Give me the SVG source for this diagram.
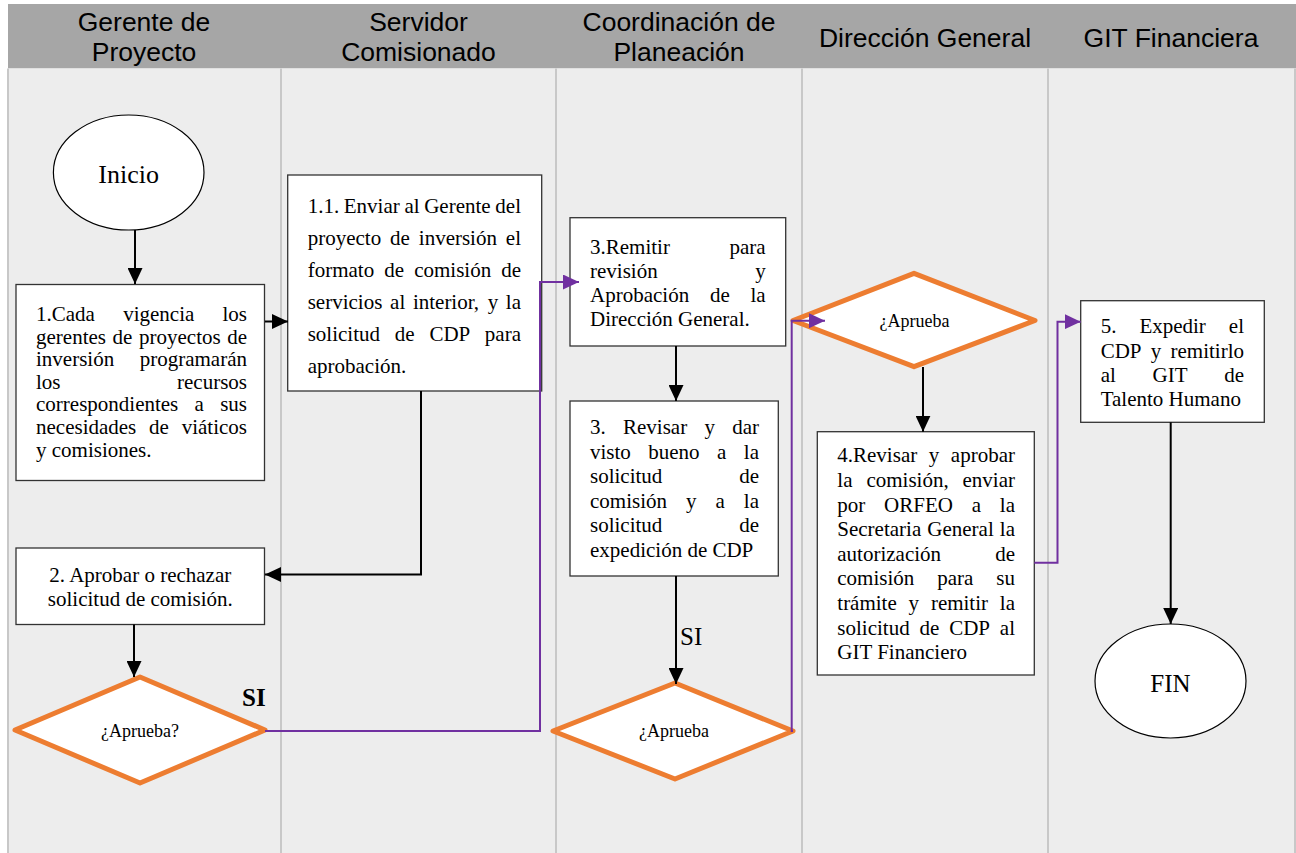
<svg xmlns="http://www.w3.org/2000/svg" width="1296" height="853" viewBox="0 0 1296 853">
<style>
.hdr{font-family:"Liberation Sans",Arial,sans-serif;font-size:26.5px;fill:#000;text-anchor:middle}
.bx{fill:#fff;stroke:#333;stroke-width:1.3}
.t{font-family:"Liberation Serif","Times New Roman",serif;font-size:21px;fill:#000}
.big{font-size:26px}
.fin{font-size:25px}
.c{text-anchor:middle}
.dm{fill:#fff;stroke:#ed7d31;stroke-width:5;stroke-linejoin:round}
.dt{font-family:"Liberation Serif","Times New Roman",serif;font-size:18px;fill:#000;text-anchor:middle}
.el{fill:#fff;stroke:#000;stroke-width:1.2}
.sep{stroke:#c8c8c8;stroke-width:2}
.k{fill:none;stroke:#000;stroke-width:2}
.p{fill:none;stroke:#7030a0;stroke-width:2}
.si{font-family:"Liberation Serif","Times New Roman",serif;font-size:25px;fill:#000}
</style>
<defs>
<marker id="ak" markerUnits="userSpaceOnUse" markerWidth="16" markerHeight="15" refX="16" refY="7.5" orient="auto" viewBox="0 0 16 15">
<path d="M0,0 L16,7.5 L0,15 Z" fill="#000"/>
</marker>
<marker id="ap" markerUnits="userSpaceOnUse" markerWidth="16" markerHeight="15" refX="16" refY="7.5" orient="auto" viewBox="0 0 16 15">
<path d="M0,0 L16,7.5 L0,15 Z" fill="#7030a0"/>
</marker>
</defs>
<g id="lanes">
<rect x="8" y="4" width="1288" height="64.5" fill="#a6a6a6"/>
<rect x="8" y="68.5" width="1288" height="785" fill="#ededed"/>
<line class="sep" x1="8" y1="68.5" x2="8" y2="853"/>
<line class="sep" x1="281" y1="68.5" x2="281" y2="853"/>
<line class="sep" x1="556" y1="68.5" x2="556" y2="853"/>
<line class="sep" x1="802" y1="68.5" x2="802" y2="853"/>
<line class="sep" x1="1048" y1="68.5" x2="1048" y2="853"/>
<line class="sep" x1="1295" y1="68.5" x2="1295" y2="853"/>
<text class="hdr" x="144" y="31">Gerente de</text>
<text class="hdr" x="144" y="61">Proyecto</text>
<text class="hdr" x="418.5" y="31">Servidor</text>
<text class="hdr" x="418.5" y="61">Comisionado</text>
<text class="hdr" x="679" y="31">Coordinación de</text>
<text class="hdr" x="679" y="61">Planeación</text>
<text class="hdr" x="925" y="46.5">Dirección General</text>
<text class="hdr" x="1171" y="46.5">GIT Financiera</text>
</g>
<g id="inicio">
<ellipse class="el" cx="128.7" cy="172.5" rx="75.3" ry="57.5"/>
<text class="t big c" x="128.7" y="182.7">Inicio</text>
</g>
<g id="paso1">
<rect class="bx" x="16" y="284.5" width="248.5" height="196"/>
<text class="t" y="321"><tspan x="36">1.Cada</tspan><tspan x="123.2">vigencia</tspan><tspan x="247" text-anchor="end">los</tspan></text>
<text class="t" y="343.6"><tspan x="36">gerentes</tspan><tspan x="112.6">de</tspan><tspan x="139">proyectos</tspan><tspan x="247" text-anchor="end">de</tspan></text>
<text class="t" y="366.2"><tspan x="36">inversión</tspan><tspan x="247" text-anchor="end">programarán</tspan></text>
<text class="t" y="388.8"><tspan x="36">los</tspan><tspan x="247" text-anchor="end">recursos</tspan></text>
<text class="t" y="411.4"><tspan x="36">correspondientes</tspan><tspan x="194.6">a</tspan><tspan x="247" text-anchor="end">sus</tspan></text>
<text class="t" y="434"><tspan x="36">necesidades</tspan><tspan x="149.1">de</tspan><tspan x="247" text-anchor="end">viáticos</tspan></text>
<text class="t" x="36" y="456.6">y comisiones.</text>
</g>
<g id="paso1_1">
<rect class="bx" x="287.7" y="175" width="254" height="216"/>
<text class="t" y="213.3"><tspan x="307.7">1.1.</tspan><tspan x="343.8">Enviar</tspan><tspan x="404.4">al</tspan><tspan x="424.2">Gerente</tspan><tspan x="521" text-anchor="end">del</tspan></text>
<text class="t" y="245.3"><tspan x="307.7">proyecto</tspan><tspan x="390.1">de</tspan><tspan x="418.8">inversión</tspan><tspan x="521" text-anchor="end">el</tspan></text>
<text class="t" y="277.3"><tspan x="307.7">formato</tspan><tspan x="384.3">de</tspan><tspan x="414.2">comisión</tspan><tspan x="521" text-anchor="end">de</tspan></text>
<text class="t" y="309.3"><tspan x="307.7">servicios</tspan><tspan x="390.1">al</tspan><tspan x="412.9">interior,</tspan><tspan x="487.7">y</tspan><tspan x="521" text-anchor="end">la</tspan></text>
<text class="t" y="341.3"><tspan x="307.7">solicitud</tspan><tspan x="394.8">de</tspan><tspan x="429.4">CDP</tspan><tspan x="521" text-anchor="end">para</tspan></text>
<text class="t" x="307.7" y="373.3">aprobación.</text>
</g>
<g id="paso2">
<rect class="bx" x="16" y="548" width="248.5" height="76.5"/>
<text class="t c" x="140.3" y="582">2. Aprobar o rechazar</text>
<text class="t c" x="140.3" y="606">solicitud de comisión.</text>
</g>
<g id="decision1">
<polygon class="dm" points="15,730 140,677 265,730 140,783"/>
<text class="dt" x="140" y="737">¿Aprueba?</text>
</g>
<g id="paso3">
<rect class="bx" x="570" y="217.7" width="215.7" height="128.3"/>
<text class="t" y="254"><tspan x="590">3.Remitir</tspan><tspan x="765.7" text-anchor="end">para</tspan></text>
<text class="t" y="278"><tspan x="590">revisión</tspan><tspan x="765.7" text-anchor="end">y</tspan></text>
<text class="t" y="302"><tspan x="590">Aprobación</tspan><tspan x="709.9">de</tspan><tspan x="765.7" text-anchor="end">la</tspan></text>
<text class="t" x="590" y="326">Dirección General.</text>
</g>
<g id="paso3b">
<rect class="bx" x="570" y="401" width="208.3" height="175"/>
<text class="t" y="434.3"><tspan x="590">3.</tspan><tspan x="623">Revisar</tspan><tspan x="704.5">y</tspan><tspan x="759" text-anchor="end">dar</tspan></text>
<text class="t" y="458.8"><tspan x="590">visto</tspan><tspan x="648.3">bueno</tspan><tspan x="717.1">a</tspan><tspan x="759" text-anchor="end">la</tspan></text>
<text class="t" y="483.3"><tspan x="590">solicitud</tspan><tspan x="759" text-anchor="end">de</tspan></text>
<text class="t" y="507.8"><tspan x="590">comisión</tspan><tspan x="686">y</tspan><tspan x="715.5">a</tspan><tspan x="759" text-anchor="end">la</tspan></text>
<text class="t" y="532.3"><tspan x="590">solicitud</tspan><tspan x="759" text-anchor="end">de</tspan></text>
<text class="t" x="590" y="556.7">expedición de CDP</text>
</g>
<g id="decision3">
<polygon class="dm" points="553,731 675,683 793,731 675,779"/>
<text class="dt" x="674" y="737">¿Aprueba</text>
</g>
<g id="decision4">
<polygon class="dm" points="793,320.5 914,273.3 1035,320.5 914,366.7"/>
<text class="dt" x="914.5" y="326.7">¿Aprueba</text>
</g>
<g id="paso4">
<rect class="bx" x="817.3" y="431.7" width="217" height="243.3"/>
<text class="t" y="462.3"><tspan x="837.3">4.Revisar</tspan><tspan x="928.8">y</tspan><tspan x="1015" text-anchor="end">aprobar</tspan></text>
<text class="t" y="486.9"><tspan x="837.3">la</tspan><tspan x="866.4">comisión,</tspan><tspan x="1015" text-anchor="end">enviar</tspan></text>
<text class="t" y="511.5"><tspan x="837.3">por</tspan><tspan x="884.1">ORFEO</tspan><tspan x="971.7">a</tspan><tspan x="1015" text-anchor="end">la</tspan></text>
<text class="t" y="536.1"><tspan x="837.3">Secretaria</tspan><tspan x="927.3">General</tspan><tspan x="1015" text-anchor="end">la</tspan></text>
<text class="t" y="560.7"><tspan x="837.3">autorización</tspan><tspan x="1015" text-anchor="end">de</tspan></text>
<text class="t" y="585.3"><tspan x="837.3">comisión</tspan><tspan x="937.3">para</tspan><tspan x="1015" text-anchor="end">su</tspan></text>
<text class="t" y="609.9"><tspan x="837.3">trámite</tspan><tspan x="908.6">y</tspan><tspan x="930.9">remitir</tspan><tspan x="1015" text-anchor="end">la</tspan></text>
<text class="t" y="634.5"><tspan x="837.3">solicitud</tspan><tspan x="919.5">de</tspan><tspan x="949.2">CDP</tspan><tspan x="1015" text-anchor="end">al</tspan></text>
<text class="t" x="837.3" y="659.1">GIT Financiero</text>
</g>
<g id="paso5">
<rect class="bx" x="1080.7" y="300.7" width="183.6" height="121.6"/>
<text class="t" y="333.3"><tspan x="1100.7">5.</tspan><tspan x="1139.4">Expedir</tspan><tspan x="1244" text-anchor="end">el</tspan></text>
<text class="t" y="357.6"><tspan x="1100.7">CDP</tspan><tspan x="1150.8">y</tspan><tspan x="1244" text-anchor="end">remitirlo</tspan></text>
<text class="t" y="381.8"><tspan x="1100.7">al</tspan><tspan x="1152.6">GIT</tspan><tspan x="1244" text-anchor="end">de</tspan></text>
<text class="t" x="1100.7" y="406">Talento Humano</text>
</g>
<g id="fin">
<ellipse class="el" cx="1170.5" cy="681" rx="75.5" ry="57"/>
<text class="t fin c" x="1170.5" y="691.7">FIN</text>
</g>
<g id="connectors">
<path class="k" d="M135,230 V284" marker-end="url(#ak)"/>
<path class="k" d="M265,321.5 H288" marker-end="url(#ak)"/>
<path class="k" d="M421,391 V574.5 H265" marker-end="url(#ak)"/>
<path class="k" d="M134,624.5 V677" marker-end="url(#ak)"/>
<path class="p" d="M265,731 H540 V282 H579" marker-end="url(#ap)"/>
<path class="k" d="M676,346 V401" marker-end="url(#ak)"/>
<path class="k" d="M676,576 V684" marker-end="url(#ak)"/>
<path class="p" d="M793,731 H791.7 V320.7 H825" marker-end="url(#ap)"/>
<path class="k" d="M923,367 V431.7" marker-end="url(#ak)"/>
<path class="p" d="M1034.3,562.7 H1057.5 V321.7 H1080.7" marker-end="url(#ap)"/>
<path class="k" d="M1170.7,422.3 V624" marker-end="url(#ak)"/>
<text class="si" x="242" y="705.7" font-weight="bold">SI</text>
<text class="si" x="680" y="645">SI</text>
</g>
</svg>
